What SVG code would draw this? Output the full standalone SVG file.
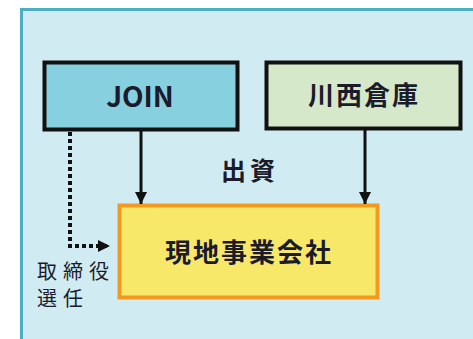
<svg xmlns="http://www.w3.org/2000/svg" width="473" height="339" viewBox="0 0 473 339">
<defs>
<style>
.lbl{font-family:"Noto Sans CJK JP","Liberation Sans",sans-serif;font-weight:bold;fill:#1b1b2a;text-anchor:middle}
.sub{font-family:"Noto Sans CJK JP",sans-serif;fill:#1b1b2a}
.conn{stroke:#111;stroke-width:3;fill:none}
.dot{stroke:#111;stroke-width:4;fill:none;stroke-dasharray:4,3}
</style>
<marker id="ah" viewBox="0 0 12 12" refX="12" refY="6" markerWidth="12" markerHeight="12" markerUnits="userSpaceOnUse" orient="auto">
<path d="M0,0 L12,6 L0,12 Z" fill="#111"/>
</marker>
</defs>
<rect x="0" y="0" width="473" height="339" fill="#ffffff"/>
<rect id="panel" x="21.5" y="9.5" width="470" height="350" fill="#d1ebf2" stroke="#4caec6" stroke-width="3"/>
<g id="join">
<rect x="44.5" y="62.5" width="193" height="67" fill="#87d0e0" stroke="#111" stroke-width="4"/>
<text class="lbl" x="140" y="107" font-size="28" font-family="Liberation Sans">JOIN</text>
</g>
<g id="kawanishi">
<rect x="266.5" y="62.5" width="194" height="66" fill="#d5e8c9" stroke="#111" stroke-width="4"/>
<text class="lbl" x="364" y="105" font-size="26" letter-spacing="2">川西倉庫</text>
</g>
<g id="local">
<rect x="119.5" y="205.5" width="258" height="92" fill="#f8e86a" stroke="#f29a1e" stroke-width="4"/>
<text class="lbl" x="249" y="262" font-size="26" letter-spacing="2">現地事業会社</text>
</g>
<g id="connectors">
<line class="conn" x1="141" y1="131" x2="141" y2="204" marker-end="url(#ah)"/>
<line class="conn" x1="365" y1="130" x2="365" y2="204" marker-end="url(#ah)"/>
<path class="dot" d="M70,132 V246 H110" marker-end="url(#ah)"/>
</g>
<text class="lbl" x="250" y="180" font-size="25" letter-spacing="4">出資</text>
<text class="sub" x="37" y="279" font-size="20" letter-spacing="6">取締役</text>
<text class="sub" x="37" y="306" font-size="20" letter-spacing="6">選任</text>
</svg>
